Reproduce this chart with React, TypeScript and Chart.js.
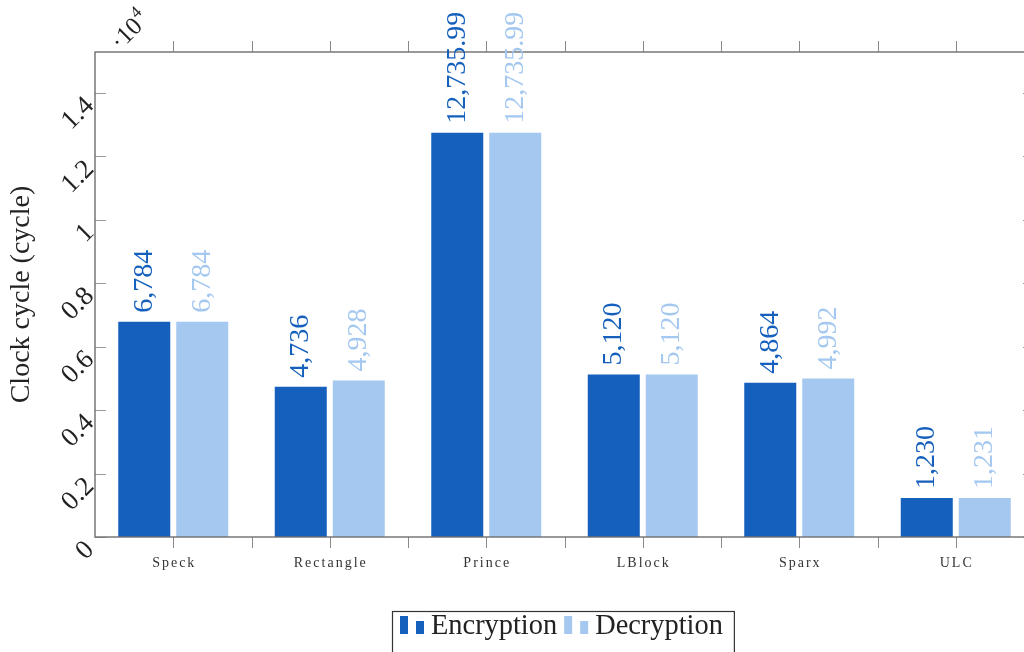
import React, { useEffect, useRef } from "react";
import { Chart, registerables } from "chart.js";

Chart.register(...registerables);

const categories = ["Speck", "Rectangle", "Prince", "LBlock", "Sparx", "ULC"];
const encryption = [6784, 4736, 12735.99, 5120, 4864, 1230];
const decryption = [6784, 4928, 12735.99, 5120, 4992, 1231];
const seriesNames = ["Encryption", "Decryption"];
const yTickValues = [0, 2000, 4000, 6000, 8000, 10000, 12000, 14000];
const yTickLabels = ["0", "0.2", "0.4", "0.6", "0.8", "1", "1.2", "1.4"];
const yTitle = "Clock cycle (cycle)";
const Y_MAX = 15283;

const DARK = "#1560BD";
const LIGHT = "#A4C8F0";
const SERIF = "'Liberation Serif', 'DejaVu Serif', serif";
const CANVAS_W = 1050;
const CANVAS_H = 652;

const fmt = (v: number) =>
  v.toLocaleString("en-US", { maximumFractionDigits: 2 });

const decorPlugin = {
  id: "decor",
  afterDraw(chart: any) {
    const ctx: CanvasRenderingContext2D = chart.ctx;
    const a = chart.chartArea;
    const xs = chart.scales.x;
    const ys = chart.scales.y;
    ctx.save();

    // y ticks (inward, both sides)
    ctx.strokeStyle = "#9a9a9a";
    ctx.lineWidth = 1;
    yTickValues.forEach((v) => {
      const y = Math.round(ys.getPixelForValue(v)) + 0.5;
      ctx.beginPath();
      ctx.moveTo(a.left, y);
      ctx.lineTo(a.left + 11, y);
      ctx.moveTo(a.right, y);
      ctx.lineTo(a.right - 11, y);
      ctx.stroke();
    });

    // x ticks (outward, top and bottom) at centers and boundaries
    const xPos: number[] = [];
    for (let i = 0; i < categories.length; i++) {
      const c = xs.getPixelForValue(i);
      xPos.push(c);
      if (i < categories.length - 1) {
        xPos.push((c + xs.getPixelForValue(i + 1)) / 2);
      }
    }
    ctx.strokeStyle = "#8a8a8a";
    xPos.forEach((x) => {
      const px = Math.round(x) + 0.5;
      ctx.beginPath();
      ctx.moveTo(px, a.top - 11);
      ctx.lineTo(px, a.top);
      ctx.moveTo(px, a.bottom);
      ctx.lineTo(px, a.bottom + 11);
      ctx.stroke();
    });

    // axis box
    ctx.strokeStyle = "#6e6e6e";
    ctx.lineWidth = 1.4;
    ctx.strokeRect(a.left, a.top, a.right - a.left, a.bottom - a.top);

    // y tick labels rotated 45deg
    ctx.fillStyle = "#222";
    ctx.font = `27px ${SERIF}`;
    yTickValues.forEach((v, i) => {
      const y = ys.getPixelForValue(v);
      ctx.save();
      ctx.translate(a.left - 5, y + 9);
      ctx.rotate(-Math.PI / 4);
      ctx.textAlign = "right";
      ctx.textBaseline = "middle";
      ctx.fillText(yTickLabels[i], 0, 0);
      ctx.restore();
    });

    // multiplier ·10^4
    ctx.save();
    ctx.translate(a.left + 25, a.top - 1);
    ctx.rotate(-Math.PI / 4);
    ctx.font = `25px ${SERIF}`;
    ctx.textAlign = "left";
    ctx.textBaseline = "alphabetic";
    ctx.fillText("·10", 0, 0);
    const mw = ctx.measureText("·10").width;
    ctx.font = `17px ${SERIF}`;
    ctx.fillText("4", mw + 1, -11);
    ctx.restore();

    // x labels
    ctx.font = `14px ${SERIF}`;
    (ctx as any).letterSpacing = "2px";
    ctx.textAlign = "center";
    ctx.textBaseline = "middle";
    ctx.fillStyle = "#333";
    categories.forEach((c, i) => {
      ctx.fillText(c, xs.getPixelForValue(i) + 1, a.bottom + 26);
    });
    (ctx as any).letterSpacing = "0px";

    // value labels
    ctx.font = `28px ${SERIF}`;
    chart.data.datasets.forEach((ds: any, d: number) => {
      const meta = chart.getDatasetMeta(d);
      ctx.fillStyle = ds.backgroundColor;
      meta.data.forEach((bar: any, i: number) => {
        ctx.save();
        ctx.translate(bar.x, bar.y - 9);
        ctx.rotate(-Math.PI / 2);
        ctx.textAlign = "left";
        ctx.textBaseline = "middle";
        ctx.fillText(fmt(ds.data[i]), 0, 0);
        ctx.restore();
      });
    });

    // y title
    ctx.save();
    ctx.fillStyle = "#222";
    ctx.font = `28px ${SERIF}`;
    ctx.translate(22, (a.top + a.bottom) / 2);
    ctx.rotate(-Math.PI / 2);
    ctx.textAlign = "center";
    ctx.textBaseline = "middle";
    ctx.fillText(yTitle, 0, 0);
    ctx.restore();

    // legend
    ctx.font = `28.4px ${SERIF}`;
    const iconW = 31;
    const gapAfterText = 7;
    const padL = 8;
    const padR = 11;
    const widths = seriesNames.map((n) => ctx.measureText(n).width);
    let total = padL + padR;
    widths.forEach((w, i) => {
      total += iconW + w + (i < widths.length - 1 ? gapAfterText : 0);
    });
    const lx = 392;
    const ly = 611;
    ctx.strokeStyle = "#333";
    ctx.lineWidth = 1.2;
    ctx.strokeRect(lx + 0.5, ly + 0.5, total, 60);
    let x = lx + padL;
    const base = 634;
    chart.data.datasets.forEach((ds: any, d: number) => {
      ctx.fillStyle = ds.backgroundColor;
      ctx.fillRect(x, base - 18, 8, 18);
      ctx.fillRect(x + 16, base - 13, 8, 13);
      ctx.fillStyle = "#222";
      ctx.textAlign = "left";
      ctx.textBaseline = "alphabetic";
      ctx.fillText(seriesNames[d], x + iconW, base);
      x += iconW + widths[d] + gapAfterText;
    });

    ctx.restore();
  },
};

export default function App() {
  const ref = useRef<HTMLCanvasElement | null>(null);

  useEffect(() => {
    if (!ref.current) return;
    const chart = new Chart(ref.current, {
      type: "bar",
      data: {
        labels: categories,
        datasets: [
          {
            label: seriesNames[0],
            data: encryption,
            backgroundColor: DARK,
            categoryPercentage: 0.741,
            barPercentage: 0.897,
          },
          {
            label: seriesNames[1],
            data: decryption,
            backgroundColor: LIGHT,
            categoryPercentage: 0.741,
            barPercentage: 0.897,
          },
        ],
      },
      options: {
        responsive: false,
        animation: false,
        layout: {
          padding: { left: 95, top: 52, right: CANVAS_W - 1034, bottom: CANVAS_H - 537 },
        },
        plugins: {
          legend: { display: false },
          tooltip: { enabled: false },
        },
        scales: {
          x: { display: false, offset: true },
          y: { display: false, min: 0, max: Y_MAX },
        },
      },
      plugins: [decorPlugin],
    });
    return () => chart.destroy();
  }, []);

  return (
    <div
      style={{
        position: "absolute",
        left: 0,
        top: 0,
        width: 1024,
        height: 652,
        overflow: "hidden",
        background: "#fff",
      }}
    >
      <canvas
        ref={ref}
        width={CANVAS_W}
        height={CANVAS_H}
        style={{ width: CANVAS_W, height: CANVAS_H, display: "block" }}
      />
    </div>
  );
}
